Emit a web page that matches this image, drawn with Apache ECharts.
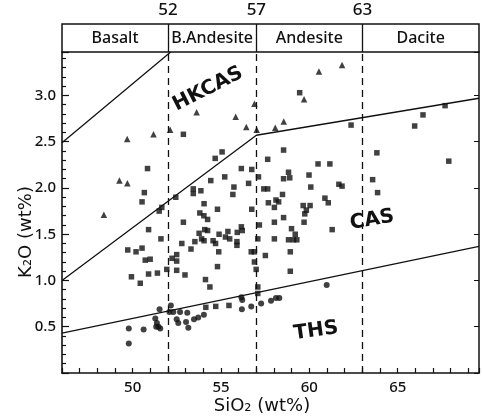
<!DOCTYPE html>
<html><head><meta charset="utf-8">
<script src="https://cdn.jsdelivr.net/npm/echarts@6/dist/echarts.min.js"></script>
<style>html,body{margin:0;padding:0;background:#fff}#c{width:482px;height:420px}</style>
</head><body><div id="c"></div>
<script>
// Triangles (HKCAS)
const hkcasX = [48.37,49.25,49.70,49.69,51.18,52.12,53.62,55.83,56.43,56.89,57.02,58.07,58.55,59.70,60.54,61.85];
const hkcasY = [1.71,2.08,2.05,2.53,2.58,2.63,2.82,2.77,2.66,2.91,2.63,2.65,2.72,2.96,3.26,3.33];
// Squares (CAS)
const casX = [52.87,59.45,50.84,54.67,55.06,56.15,56.74,57.64,58.54,58.82,60.49,61.16,62.36,65.96,66.43,67.68,63.82,67.89,
  50.66,50.53,51.65,51.50,52.44,53.43,53.43,52.87,50.90,51.60,49.72,50.19,50.53,50.71,50.99,52.78,53.30,53.52,52.23,52.49,52.49,
  51.93,52.49,50.90,51.40,49.93,50.43,52.96,53.76,53.80,55.21,54.42,53.86,55.73,55.67,56.56,57.12,58.54,58.89,60.08,57.42,57.64,
  58.48,58.11,58.26,57.68,58.02,56.74,54.04,54.80,54.03,54.24,59.65,60.04,59.83,59.74,58.54,58.02,59.70,57.17,58.99,56.15,56.20,
  55.92,55.39,54.89,54.08,54.24,53.90,54.04,54.55,54.69,55.25,55.49,55.90,55.90,57.08,58.02,58.82,59.10,59.29,59.20,54.87,56.71,
  56.89,57.51,58.92,56.89,54.80,56.99,58.92,54.12,54.37,57.08,61.67,61.85,60.88,61.07,63.58,63.86,61.29,59.98,54.14,54.70,55.45,57.08];
const casY = [2.58,3.03,2.21,2.32,2.39,2.21,2.20,2.31,2.41,2.17,2.26,2.26,2.68,2.67,2.79,2.89,2.38,2.29,
  1.95,1.85,1.79,1.75,1.90,1.99,1.94,1.63,1.55,1.45,1.33,1.31,1.35,1.22,1.23,1.40,1.34,1.42,1.24,1.28,1.21,
  1.12,1.11,1.07,1.08,1.04,0.97,1.06,1.51,1.73,2.12,2.08,1.97,2.01,1.93,2.05,2.12,2.10,2.11,2.01,1.99,1.99,
  1.93,1.87,1.85,1.84,1.79,1.77,1.83,1.77,1.70,1.66,1.81,1.81,1.76,1.72,1.68,1.63,1.63,1.60,1.56,1.58,1.54,
  1.52,1.53,1.50,1.55,1.54,1.45,1.43,1.43,1.40,1.47,1.45,1.42,1.38,1.45,1.45,1.44,1.44,1.44,1.50,1.31,1.31,
  1.31,1.27,1.31,1.20,1.15,1.12,1.10,1.01,0.93,0.93,2.04,2.02,1.89,1.84,2.09,1.95,1.55,2.14,0.71,0.72,0.73,0.86];
// Circles (THS)
const thsX = [49.78,49.78,50.62,51.28,51.37,51.33,51.46,51.56,51.52,52.16,52.08,52.30,52.68,53.09,52.49,52.58,53.02,53.15,53.47,53.71,54.03,
  56.15,56.20,56.18,56.71,57.27,57.83,58.11,58.30,60.98];
const thsY = [0.48,0.32,0.47,0.59,0.54,0.50,0.50,0.48,0.69,0.73,0.66,0.66,0.66,0.65,0.58,0.54,0.55,0.49,0.58,0.60,0.63,
  0.82,0.79,0.69,0.72,0.75,0.78,0.81,0.81,0.95];
// Boundary lines
const lineTopX = [46, 52.15];
const lineTopY = [2.49, 3.47];
const lineHkX = [46, 57, 69.6];
const lineHkY = [1.0, 2.57, 2.97];
const lineThX = [46, 69.6];
const lineThY = [0.43, 1.37];
// Rock-type divisions
const divisions = [52, 57, 63];
const rockNames = ['Basalt', 'B.Andesite', 'Andesite', 'Dacite'];
const rockBounds = [46, 52, 57, 63, 69.6];
const xTickLabels = [50, 55, 60, 65];
const yTickLabels = [0.5, 1.0, 1.5, 2.0, 2.5, 3.0];

const zip = (a, b) => a.map((v, i) => [v, b[i]]);
const FONT = 'Noto Sans';
const black = '#111';

const chart = echarts.init(document.getElementById('c'), null, {renderer: 'canvas'});
const lineStyle = {color: black, width: 1.3};
const option = {
  animation: false,
  backgroundColor: '#fff',
  grid: [
    {left: 62, right: 1, top: 52, bottom: 47},
    {left: 62, right: 1, top: 24, height: 28, show: true, borderColor: black, borderWidth: 1.5, backgroundColor: 'transparent'}
  ],
  xAxis: [
    {gridIndex: 0, type: 'value', min: 46, max: 69.6, interval: 1,
     axisLine: {lineStyle: {color: black, width: 1.6}},
     axisTick: {inside: true, length: 5, lineStyle: {color: black, width: 1.2}},
     splitLine: {show: false},
     axisLabel: {margin: 7, color: black, fontFamily: FONT, fontSize: 15, fontWeight: 500,
       formatter: v => xTickLabels.includes(Math.round(v)) && Math.abs(v - Math.round(v)) < 1e-6 ? String(Math.round(v)) : ''}},
    {gridIndex: 1, type: 'value', position: 'top', min: 46, max: 69.6, interval: 1,
     axisLine: {show: false}, axisTick: {show: false}, splitLine: {show: false},
     axisLabel: {margin: 5, color: black, fontFamily: FONT, fontSize: 17, fontWeight: 500,
       formatter: v => divisions.includes(Math.round(v)) && Math.abs(v - Math.round(v)) < 1e-6 ? String(Math.round(v)) : ''}}
  ],
  yAxis: [
    {gridIndex: 0, type: 'value', min: 0, max: 3.47, interval: 0.5,
     axisLine: {show: true, lineStyle: {color: black, width: 1.6}},
     axisTick: {inside: true, length: 7, lineStyle: {color: black, width: 1.2}},
     minorTick: {show: true, splitNumber: 5, length: 4, lineStyle: {color: black, width: 1.2}},
     splitLine: {show: false},
     axisLabel: {margin: 6, color: black, fontFamily: FONT, fontSize: 15, fontWeight: 500,
       formatter: v => yTickLabels.some(t => Math.abs(t - v) < 1e-6) ? v.toFixed(1) : ''}},
    {gridIndex: 0, type: 'value', position: 'right', min: 0, max: 3.47, interval: 0.5,
     axisLine: {show: true, lineStyle: {color: black, width: 1.5}},
     axisTick: {inside: true, length: 5, lineStyle: {color: black}},
     splitLine: {show: false}, axisLabel: {show: false}},
    {gridIndex: 1, type: 'value', min: 0, max: 1, show: false}
  ],
  series: [
    {type: 'line', data: zip(lineTopX, lineTopY), showSymbol: false, symbol: 'none', lineStyle, silent: true, z: 3},
    {type: 'line', data: zip(lineHkX, lineHkY), showSymbol: false, symbol: 'none', lineStyle, silent: true, z: 3},
    {type: 'line', data: zip(lineThX, lineThY), showSymbol: false, symbol: 'none', lineStyle, silent: true, z: 3,
     markLine: {silent: true, symbol: 'none', label: {show: false},
       lineStyle: {color: black, width: 1.3, type: [7, 5]},
       data: divisions.map(d => ({xAxis: d}))}},
    {type: 'scatter', name: 'HKCAS', data: zip(hkcasX, hkcasY), symbol: 'triangle', symbolSize: 6.5, itemStyle: {color: black}, z: 4},
    {type: 'scatter', name: 'CAS', data: zip(casX, casY), symbol: 'rect', symbolSize: 5.5, itemStyle: {color: black}, z: 4},
    {type: 'scatter', name: 'THS', data: zip(thsX, thsY), symbol: 'circle', symbolSize: 6, itemStyle: {color: black}, z: 4},
    {type: 'scatter', xAxisIndex: 1, yAxisIndex: 2, data: [], silent: true,
     markArea: {silent: true, itemStyle: {color: 'rgba(0,0,0,0)'},
       label: {show: true, position: 'inside', color: black, fontFamily: FONT, fontSize: 16, fontWeight: 500},
       data: rockNames.map((n, i) => [{xAxis: rockBounds[i], name: n}, {xAxis: rockBounds[i + 1]}])},
     markLine: {silent: true, symbol: 'none', label: {show: false},
       lineStyle: {color: black, width: 1.3, type: 'solid'},
       data: divisions.map(d => ({xAxis: d}))}}
  ],
  graphic: [
    {type: 'text', x: 208, y: 89, rotation: 27 * Math.PI / 180,
     style: {text: 'HKCAS', font: 'bold 20px "DejaVu Sans"', fill: black, align: 'center', verticalAlign: 'middle'}},
    {type: 'text', x: 372, y: 220, rotation: 10 * Math.PI / 180,
     style: {text: 'CAS', font: 'bold 20px "DejaVu Sans"', fill: black, align: 'center', verticalAlign: 'middle'}},
    {type: 'text', x: 316, y: 331, rotation: 8 * Math.PI / 180,
     style: {text: 'THS', font: 'bold 20px "DejaVu Sans"', fill: black, align: 'center', verticalAlign: 'middle'}},
    {type: 'text', x: 26, y: 232, rotation: Math.PI / 2,
     style: {text: 'K₂O (wt%)', font: '18px "DejaVu Sans"', fill: black, align: 'center', verticalAlign: 'middle'}},
    {type: 'text', x: 262, y: 406,
     style: {text: 'SiO₂ (wt%)', font: '18px "DejaVu Sans"', fill: black, align: 'center', verticalAlign: 'middle'}}
  ]
};
chart.setOption(option);
</script>
</body></html>
